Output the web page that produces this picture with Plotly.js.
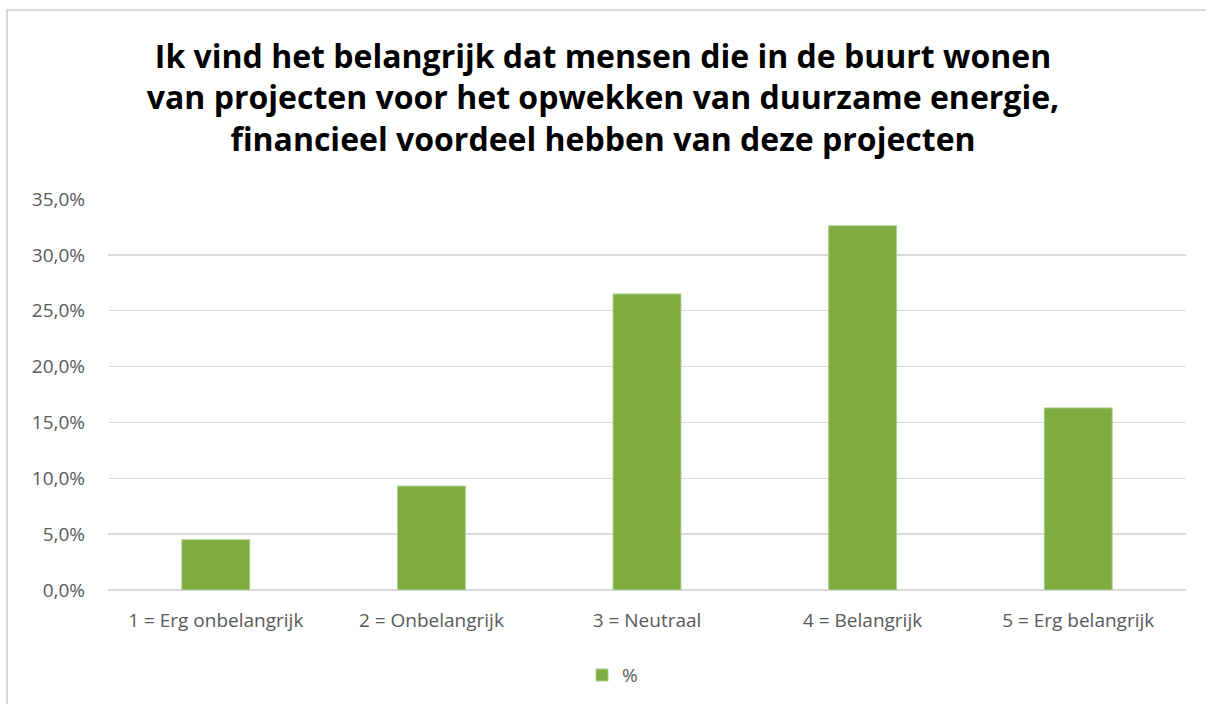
<!doctype html>
<html>
	<head>
		<meta charset="utf-8">
		<script src="https://cdn.plot.ly/plotly-3.0.1.min.js"></script>
		<style>
			html, body {
				margin: 0;
				padding: 0;
				background: #fff;
			}
			#chart {
				position: absolute;
				left: 0;
				top: 0;
				width: 1206px;
				height: 704px;
			}
			.frame {
				position: absolute;
				left: 6px;
				top: 9px;
				width: 1300px;
				height: 800px;
				border-top: 2px solid #d9d9d9;
				border-left: 2px solid #d9d9d9;
				pointer-events: none;
			}
		</style>
		<title>Financieel voordeel</title>
	</head>
	<body>
		<div id="chart"></div>
		<div class="frame"></div>
		<script>
			let categories = [
				'1 = Erg onbelangrijk',
				'2 = Onbelangrijk',
				'3 = Neutraal',
				'4 = Belangrijk',
				'5 = Erg belangrijk'
			]
			let percent = [4.5, 9.3, 26.5, 32.6, 16.3]
			let tickValues = [0, 5, 10, 15, 20, 25, 30, 35]
			let tickLabels = ['0,0%', '5,0%', '10,0%', '15,0%', '20,0%', '25,0%', '30,0%', '35,0%']

			let green = '#7fab40'
			let font = '"Open Sans", Lato, sans-serif'

			let bars = {
				type: 'bar',
				name: '%',
				x: categories,
				y: percent,
				marker: { color: green, line: { color: '#a9d18e', width: 1 } },
				hoverinfo: 'x+y'
			}

			Plotly.newPlot('chart', [bars], {
				width: 1206,
				height: 704,
				margin: { l: 108, r: 20, t: 199, b: 114, autoexpand: false },
				paper_bgcolor: '#fff',
				plot_bgcolor: '#fff',
				font: { family: font, color: '#595959', size: 18 },
				title: {
					text: '<b>Ik vind het belangrijk dat mensen die in de buurt wonen<br>van projecten voor het opwekken van duurzame energie,<br>financieel voordeel hebben van deze projecten</b>',
					font: { family: font, size: 32, color: '#000' },
					x: 0.5,
					xanchor: 'center',
					y: 0.904,
					yanchor: 'top'
				},
				bargap: 0.685,
				xaxis: {
					showgrid: false,
					showline: false,
					ticks: '',
					ticklabelstandoff: 17,
					tickfont: { size: 19, color: '#595959' }
				},
				yaxis: {
					range: [0, 35],
					tickvals: tickValues,
					ticktext: tickLabels,
					showgrid: true,
					gridcolor: '#d9d9d9',
					gridwidth: 1.5,
					zeroline: true,
					zerolinecolor: '#d9d9d9',
					zerolinewidth: 1.5,
					showline: false,
					ticks: '',
					ticklabelstandoff: 22,
					tickfont: { size: 19, color: '#595959' }
				},
				showlegend: true,
				legend: {
					orientation: 'h',
					x: 0.468,
					xanchor: 'center',
					yref: 'container',
					y: 0.041,
					yanchor: 'middle',
					font: { size: 19, color: '#595959' }
				}
			}, { displayModeBar: false, staticPlot: true })
		</script>
	</body>
</html>
